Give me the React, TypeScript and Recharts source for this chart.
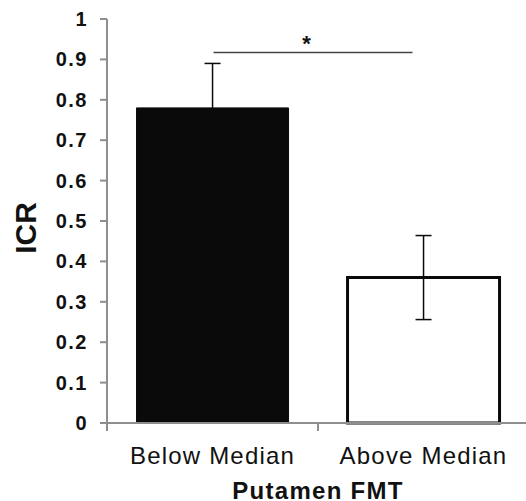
import React from "react";
import { BarChart, Bar, XAxis, YAxis, Cell, ErrorBar, ReferenceLine } from "recharts";

const categories = ["Below Median", "Above Median"];
const icrValues = [0.78, 0.36];
const icrErrors = [0.11, 0.104];
const yTicks = [0, 0.1, 0.2, 0.3, 0.4, 0.5, 0.6, 0.7, 0.8, 0.9, 1];
const sigLevel = 0.917;
const sigLabel = "*";

const fills = ["#0a0a0a", "#ffffff"];
const strokes = ["#0a0a0a", "#0a0a0a"];
const strokeWidths = [1, 3];

const data = categories.map((name, i) => ({ name, icr: icrValues[i], err: icrErrors[i] }));

const AXIS = "#8e8e8e";
const FONT = "'Liberation Sans', Arial, sans-serif";

// category tick: boundary tick line on the left edge of the band + label in the middle
function BandTick(props: any) {
  const { x, y, payload } = props;
  const edge = x - (payload.offset ?? 0);
  return (
    <g>
      <line x1={edge} y1={y - 8} x2={edge} y2={y} stroke={AXIS} strokeWidth={2} />
      <text x={x} y={y} dy={33} textAnchor="middle" fontFamily={FONT} fontSize={24} letterSpacing={1.2} fill="#111">
        {payload.value}
      </text>
    </g>
  );
}

function ValueTick(props: any) {
  const { x, y, payload } = props;
  return (
    <text x={x} y={y} dy={7} textAnchor="end" fontFamily={FONT} fontSize={20} fontWeight="bold" letterSpacing={1.5} fill="#111">
      {String(Math.round(payload.value * 10) / 10)}
    </text>
  );
}

function SigLine(props: any) {
  const { x1, y1, x2 } = props;
  const end = x2 - 11;
  return (
    <g>
      <line x1={x1 + 1} y1={y1} x2={end} y2={y1} stroke="#444" strokeWidth={1.5} />
      <text x={(x1 + end) / 2 - 6} y={y1 - 2} textAnchor="middle" fontFamily={FONT} fontWeight="bold" fontSize={22} fill="#111">
        {sigLabel}
      </text>
    </g>
  );
}

export default function App() {
  return (
    <div style={{ position: "fixed", left: 0, top: 0, width: 526, height: 501, overflow: "hidden", background: "#fff" }}>
      <BarChart
        width={540}
        height={501}
        data={data}
        margin={{ top: 19, right: 11, left: 0, bottom: 0 }}
        barCategoryGap="14%"
      >
        <XAxis
          dataKey="name"
          height={78}
          axisLine={{ stroke: AXIS, strokeWidth: 2 }}
          tickLine={false}
          tickSize={8}
          tickMargin={0}
          tick={<BandTick />}
          interval={0}
          label={{
            value: "Putamen FMT",
            position: "insideBottom",
            offset: 2,
            style: { fontFamily: FONT, fontSize: 24, fontWeight: "bold", letterSpacing: 1.3, fill: "#111" },
          }}
        />
        <YAxis
          width={107}
          domain={[0, 1]}
          ticks={yTicks}
          interval={0}
          axisLine={{ stroke: AXIS, strokeWidth: 2 }}
          tickLine={{ stroke: AXIS, strokeWidth: 2 }}
          tickSize={7}
          tickMargin={12}
          tick={<ValueTick />}
          label={{
            value: "ICR",
            angle: -90,
            position: "center",
            dx: -28,
            dy: 7,
            style: { fontFamily: FONT, fontSize: 30, fontWeight: "bold", fill: "#111" },
          }}
        />
        <Bar dataKey="icr" isAnimationActive={false}>
          {data.map((d, i) => (
            <Cell key={d.name} fill={fills[i]} stroke={strokes[i]} strokeWidth={strokeWidths[i]} />
          ))}
          <ErrorBar dataKey="err" width={8} stroke="#0a0a0a" strokeWidth={1.5} direction="y" isAnimationActive={false} />
        </Bar>
        <ReferenceLine
          segment={[
            { x: categories[0], y: sigLevel },
            { x: categories[1], y: sigLevel },
          ]}
          shape={<SigLine />}
          ifOverflow="visible"
        />
      </BarChart>
    </div>
  );
}
